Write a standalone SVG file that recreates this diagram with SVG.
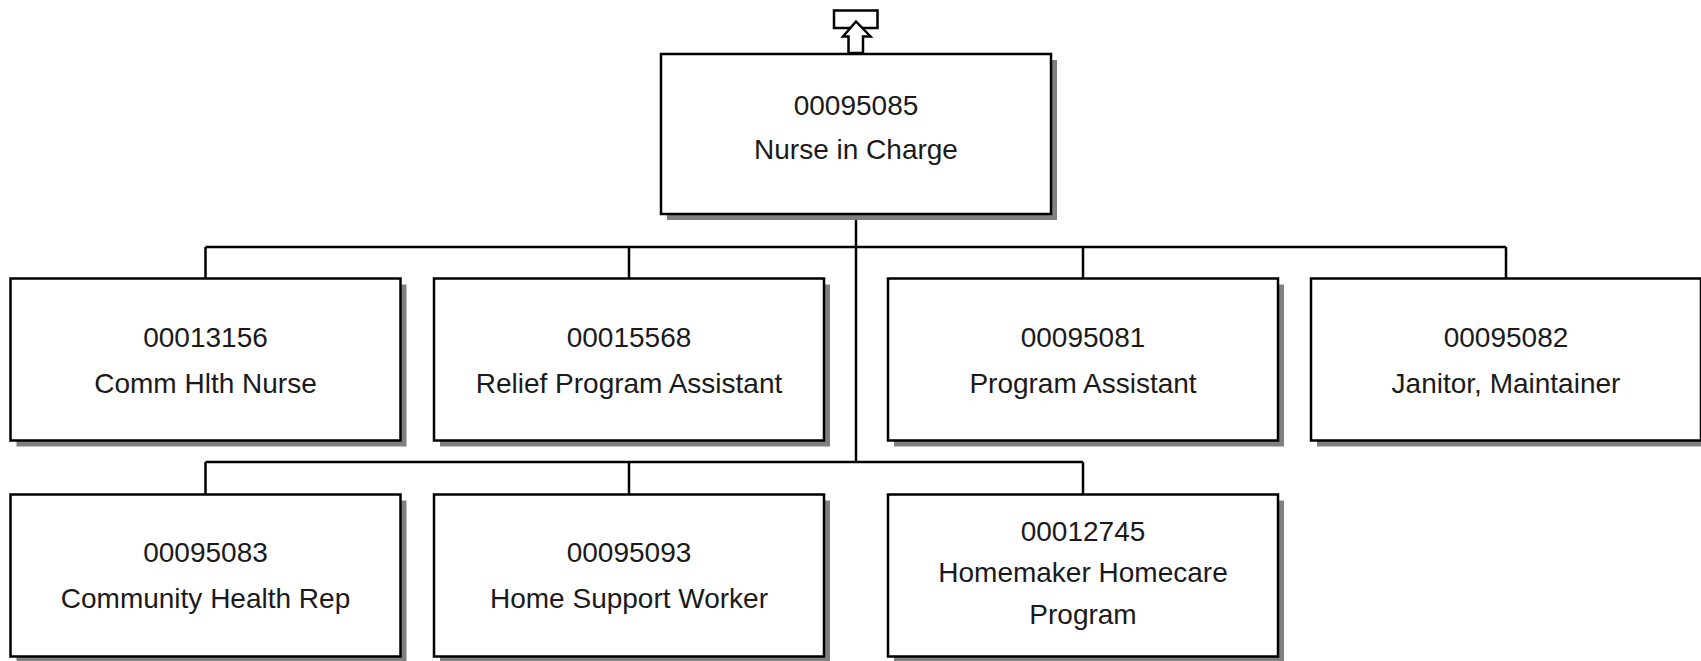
<svg xmlns="http://www.w3.org/2000/svg" width="1701" height="661" viewBox="0 0 1701 661">
<style>
.box{fill:#fff;stroke:#000;stroke-width:2.5}
.sh{fill:#808080}
.t{font-family:"Liberation Sans",Arial,sans-serif;font-size:28px;fill:#1a1a1a;text-anchor:middle}
.c{fill:none;stroke:#000;stroke-width:2.5}
</style>
<rect width="1701" height="661" fill="#fff"/>
<g id="connectors">
<path class="c" d="M856,214 V462 M205.5,247 H1506 M205.5,247 V278.5 M629,247 V278.5 M1083,247 V278.5 M1506,247 V278.5 M205.5,462 H1083 M205.5,462 V494.5 M629,462 V494.5 M1083,462 V494.5"/>
</g>
<g id="n00095085">
<rect class="sh" x="667" y="60" width="390" height="160"/>
<rect class="box" x="661" y="54" width="390" height="160"/>
<text class="t" x="856" y="115">00095085</text>
<text class="t" x="856" y="159">Nurse in Charge</text>
</g>
<g id="upArrow">
<rect class="box" x="834" y="10.5" width="43.5" height="17.5"/>
<polygon class="box" points="856,21.5 843,36.5 848.5,36.5 848.5,53 863,53 863,36.5 870.5,36.5"/>
</g>
<g id="n00013156">
<rect class="sh" x="16.5" y="284.5" width="390" height="162"/>
<rect class="box" x="10.5" y="278.5" width="390" height="162"/>
<text class="t" x="205.5" y="347">00013156</text>
<text class="t" x="205.5" y="393">Comm Hlth Nurse</text>
</g>
<g id="n00015568">
<rect class="sh" x="440" y="284.5" width="390" height="162"/>
<rect class="box" x="434" y="278.5" width="390" height="162"/>
<text class="t" x="629" y="347">00015568</text>
<text class="t" x="629" y="393">Relief Program Assistant</text>
</g>
<g id="n00095081">
<rect class="sh" x="894" y="284.5" width="390" height="162"/>
<rect class="box" x="888" y="278.5" width="390" height="162"/>
<text class="t" x="1083" y="347">00095081</text>
<text class="t" x="1083" y="393">Program Assistant</text>
</g>
<g id="n00095082">
<rect class="sh" x="1317" y="284.5" width="390" height="162"/>
<rect class="box" x="1311" y="278.5" width="390" height="162"/>
<text class="t" x="1506" y="347">00095082</text>
<text class="t" x="1506" y="393">Janitor, Maintainer</text>
</g>
<g id="n00095083">
<rect class="sh" x="16.5" y="500.5" width="390" height="162"/>
<rect class="box" x="10.5" y="494.5" width="390" height="162"/>
<text class="t" x="205.5" y="562">00095083</text>
<text class="t" x="205.5" y="608">Community Health Rep</text>
</g>
<g id="n00095093">
<rect class="sh" x="440" y="500.5" width="390" height="162"/>
<rect class="box" x="434" y="494.5" width="390" height="162"/>
<text class="t" x="629" y="562">00095093</text>
<text class="t" x="629" y="608">Home Support Worker</text>
</g>
<g id="n00012745">
<rect class="sh" x="894" y="500.5" width="390" height="162"/>
<rect class="box" x="888" y="494.5" width="390" height="162"/>
<text class="t" x="1083" y="541">00012745</text>
<text class="t" x="1083" y="582">Homemaker Homecare</text>
<text class="t" x="1083" y="624">Program</text>
</g>
</svg>
